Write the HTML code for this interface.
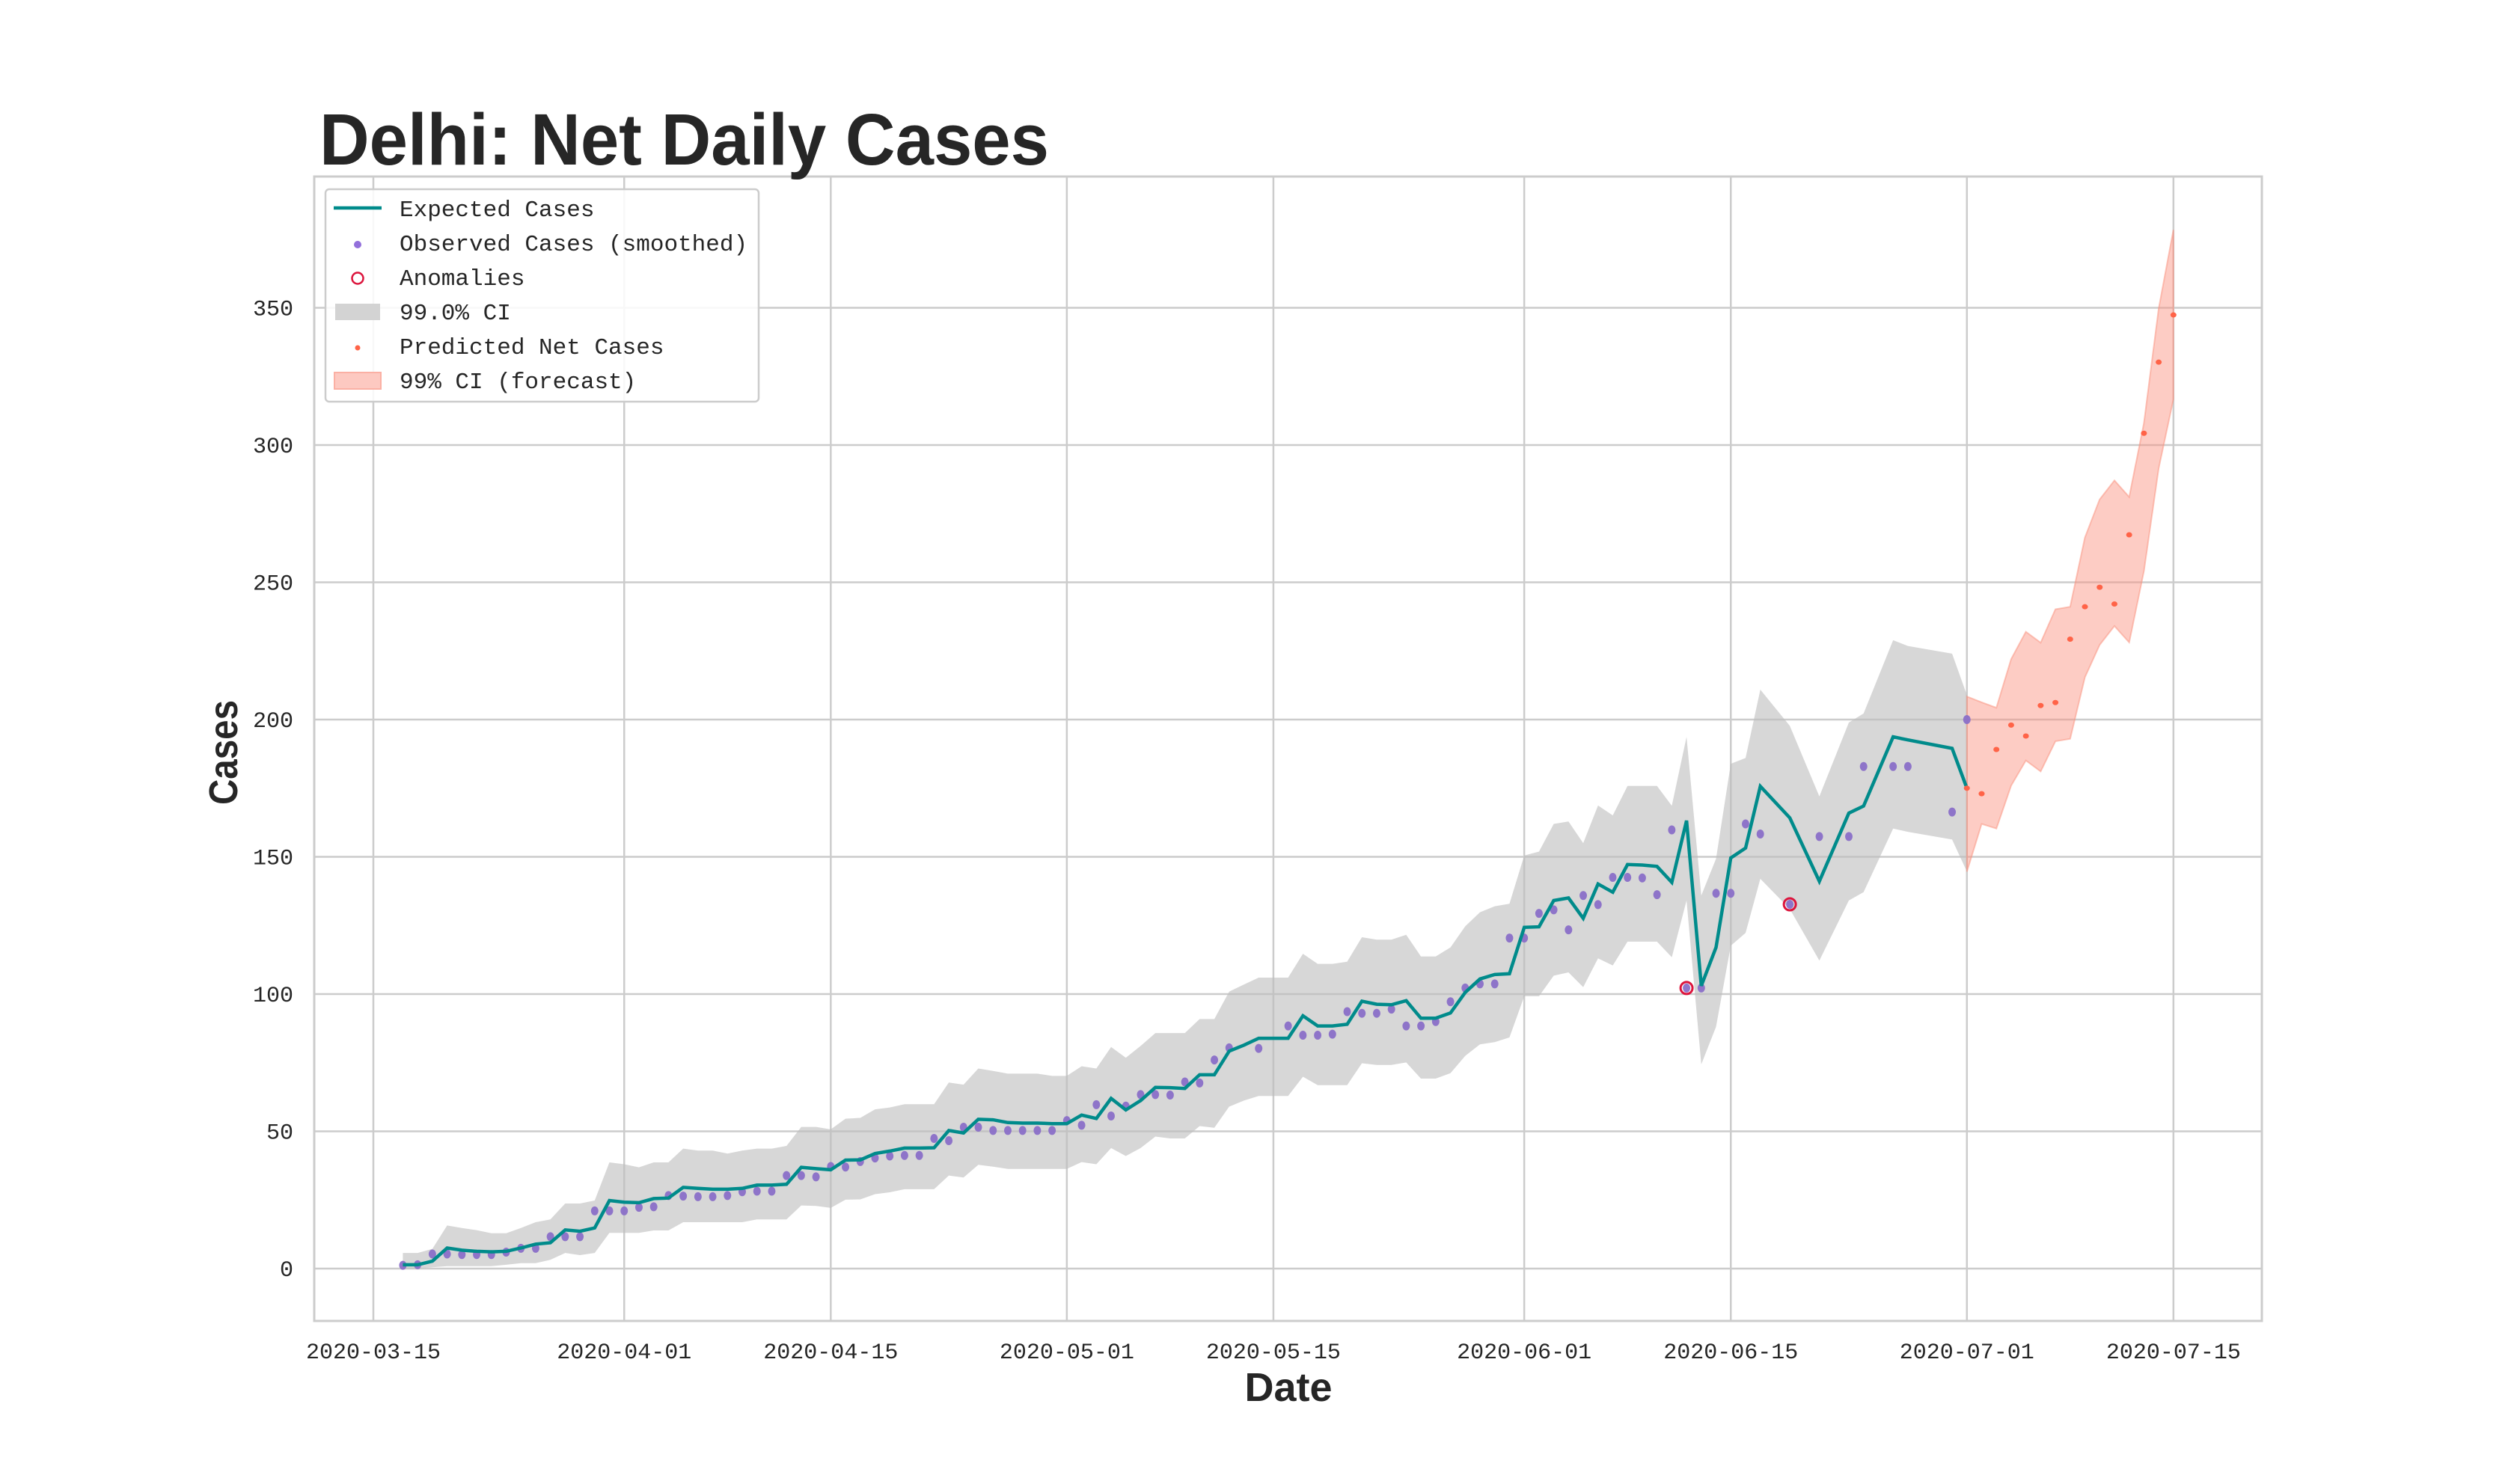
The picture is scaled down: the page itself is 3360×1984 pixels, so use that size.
<!DOCTYPE html>
<html><head><meta charset="utf-8">
<style>
html,body{margin:0;padding:0;background:#fff;}
svg{display:block;}
text{fill:#262626;}
.mono{font-family:"Liberation Mono","DejaVu Sans Mono",monospace;}
.sans{font-family:"Liberation Sans","DejaVu Sans",sans-serif;}
</style></head>
<body>
<svg id="chart" width="3360" height="1984" viewBox="0 0 3360 1984" xmlns="http://www.w3.org/2000/svg">
  <rect x="0" y="0" width="3360" height="1984" fill="#fff"/>
  <g id="grid"></g>
  <g id="bands"></g>
  <g id="series"></g>
  <rect x="420" y="236" width="2603" height="1530" fill="none" stroke="#cccccc" stroke-width="3"/>
  <g id="ticks"></g>
  <text class="sans" x="427" y="220" font-size="97" font-weight="bold" textLength="975" lengthAdjust="spacingAndGlyphs">Delhi: Net Daily Cases</text>
  <text class="sans" x="1722" y="1873" font-size="54" font-weight="bold" text-anchor="middle">Date</text>
  <text class="sans" x="0" y="0" font-size="54" font-weight="bold" text-anchor="middle" textLength="140" lengthAdjust="spacingAndGlyphs" transform="translate(317,1006) rotate(-90)">Cases</text>
  <g>
    <rect x="435" y="253" width="579" height="284" rx="5" fill="#fff" fill-opacity="0.85" stroke="#cccccc" stroke-width="2.5"/>
    <g>
      <line x1="446" y1="278" x2="510" y2="278" stroke="#008b8b" stroke-width="4.5"/>
      <text class="mono" x="534" y="289" font-size="31">Expected Cases</text>
    </g>
    <g>
      <circle cx="478" cy="327" r="5" fill="#9370db"/>
      <text class="mono" x="534" y="335" font-size="31">Observed Cases (smoothed)</text>
    </g>
    <g>
      <circle cx="478" cy="372" r="7.5" fill="none" stroke="#dc143c" stroke-width="2.5"/>
      <text class="mono" x="534" y="381" font-size="31">Anomalies</text>
    </g>
    <g>
      <rect x="448" y="406" width="60" height="22" fill="#d3d3d3"/>
      <text class="mono" x="534" y="427" font-size="31">99.0% CI</text>
    </g>
    <g>
      <circle cx="478" cy="465" r="3.5" fill="#ff6347"/>
      <text class="mono" x="534" y="473" font-size="31">Predicted Net Cases</text>
    </g>
    <g>
      <rect x="447" y="498" width="62" height="22" fill="#fdc9c1" stroke="#fbb0a4" stroke-width="2"/>
      <text class="mono" x="534" y="519" font-size="31">99% CI (forecast)</text>
    </g>
  </g>
</svg>
<script>
// ---- data (day offset from 2020-03-15) ----
function seq(a,b){var r=[];for(var i=a;i<=b;i++)r.push(i);return r;}
var lineDays = seq(2,94).concat([96,98,100,101,103,104,107,108]);
var expected = [1.4,1.4,2.7,7.5,6.7,6.3,6.1,6.3,7.5,8.9,
 9.4,14.1,13.6,14.8,24.8,24.2,24,25.5,25.7,29.6,
 29.2,28.9,28.9,29.2,30.4,30.4,30.7,36.9,36.4,36,
 39.5,39.6,41.9,42.8,43.9,43.9,44,50.3,49.4,54.4,
 54.2,53.2,53,53,52.8,52.8,55.9,54.7,62,57.8,
 61.2,66,65.9,65.6,70.6,70.6,79.2,81.4,83.9,83.9,
 83.9,92.1,88.4,88.4,89,97.4,96.3,96.1,97.6,91.2,
 91.2,93.1,100.6,105.5,107.1,107.4,124.3,124.5,134.1,135,
 127.6,140.1,137.1,147.2,147,146.5,140.7,163.2,103,117,
 149.6,153.2,175.7,164.2,141.1,165.9,168.5,193.7,192.6,189.5,175];
var ciUpper = [5.7,5.7,7.2,15.7,14.8,14,12.9,12.9,14.8,16.9,
 17.9,23.7,23.7,24.8,38.7,38,36.9,38.7,38.7,43.7,
 43,43,41.9,43,43.7,43.7,44.7,51.6,51.6,50.7,
 54.6,54.9,58,58.7,59.9,59.9,59.9,67.8,67,72.9,
 72,71,71,71,70.2,70.2,73.7,72.9,80.7,76.8,
 81.1,85.8,85.8,85.8,90.9,90.9,100.9,103.5,106,106,
 106,114.7,111,111,111.8,120.7,119.8,119.8,121.6,113.7,
 113.7,117,124.7,129.8,132,132.9,150.5,151.9,162,162.9,
 155,168.7,165.1,175.8,175.8,175.8,168.6,193.7,135.9,149.3,
 183.9,186,210.9,197.7,172,198.9,202.2,228.9,226.8,224,208.9];
var ciLower = [0,0,0.5,0.9,0.9,0.9,0.9,1.4,2,2,
 3.2,5.7,4.9,5.7,13,13,13,13.9,13.9,16.9,
 16.9,16.9,16.9,16.9,17.9,17.9,17.9,23,22.8,22.1,
 25.1,25.2,27.1,27.8,28.9,28.9,28.9,33.9,33.2,37.8,
 37.1,36.3,36.3,36.3,36.3,36.3,38.8,38,43.9,41,
 43.9,48.1,47.4,47.4,51.9,51.3,59,61.2,62.9,62.9,
 62.9,69.9,66.8,66.8,66.8,74.8,74.2,74.2,75.1,69.2,
 69.2,71.2,77.5,81.7,82.5,84.2,99.2,99.2,106.7,107.9,
 102.5,113,110.4,119.1,119.1,119.1,113.4,134.1,74.4,88.1,
 117.6,122.3,142,131,112.2,134.1,137.1,160.3,159.1,156.3,144.6];
var obsDays = seq(2,58).concat([60]).concat(seq(62,94)).concat([96,98,100,101,103,104,107,108]);
var observed = [1.2,1.4,5.3,5.3,5.1,5.1,5.1,6,7.4,7.4,
 11.6,11.6,11.6,21,21,21,22.3,22.5,26.6,26.4,
 26.2,26.2,26.6,28,28.2,28.2,33.9,33.9,33.4,37.2,
 37,39,40.3,41,41.2,41.2,47.4,46.6,51.5,51.5,
 50.3,50.3,50.3,50.3,50.3,53.9,52.2,59.7,55.6,59.2,
 63.4,63.4,63.2,68,67.6,76,80.4,
 80.2,
 88.4,85,85,85.4,93.6,93,93,94.5,88.4,88.4,
 90,97.2,102.2,103.7,103.7,120.4,120.4,129.4,130.7,123.4,
 135.9,132.6,142.5,142.5,142.3,136.2,159.8,102.2,102.2,136.7,
 136.7,162,158.3,
 132.7,157.4,157.4,182.9,182.9,182.9,166.3,200];
var anomalyDays = [89,96];
var anomalyVals = [102.2,132.7];
var fcDays = seq(108,122);
var predicted = [175,173,189.1,198,194,205.1,206.2,229.3,241.1,248.2,242.1,267.3,304.3,330.2,347.4];
var fcUpper = [208.4,206.3,204.3,222,232,228,240.2,241.1,266.3,280.2,287.1,281.1,308,349.7,378.4];
var fcLower = [144.6,162,160.3,175.9,185.1,181.1,192.1,193,215.4,227.2,234.1,228.1,254.1,291.5,316.7];
var xTickDays = [0,17,31,47,61,78,92,108,122];
var xTickLabels = ["2020-03-15","2020-04-01","2020-04-15","2020-05-01","2020-05-15","2020-06-01","2020-06-15","2020-07-01","2020-07-15"];
var yTicks = [0,50,100,150,200,250,300,350];

// ---- axes ----
var X0=499, XPD=19.72, Y0=1696, YPV=3.67;
function xs(d){return X0+XPD*d;}
function ys(v){return Y0-YPV*v;}
var NS="http://www.w3.org/2000/svg";
function mk(tag,parent){var e=document.createElementNS(NS,tag);parent.appendChild(e);return e;}
var grid=document.getElementById('grid'), ticks=document.getElementById('ticks');
var bands=document.getElementById('bands'), series=document.getElementById('series');

yTicks.forEach(function(v){
  var l=mk('line',grid);
  
  
  l.setAttribute('x1',420);l.setAttribute('x2',3023);l.setAttribute('y1',ys(v));l.setAttribute('y2',ys(v));
  l.setAttribute('stroke','#cccccc');l.setAttribute('stroke-width','2.5');
  var t=mk('text',ticks);
  
  
  t.setAttribute('class','mono');t.setAttribute('font-size','30');t.setAttribute('text-anchor','end');
  t.setAttribute('x',392);t.setAttribute('y',ys(v)+10);t.textContent=String(v);
});
xTickDays.forEach(function(d,i){
  var l=mk('line',grid);
  
  
  l.setAttribute('x1',xs(d));l.setAttribute('x2',xs(d));l.setAttribute('y1',236);l.setAttribute('y2',1766);
  l.setAttribute('stroke','#cccccc');l.setAttribute('stroke-width','2.5');
  var t=mk('text',ticks);
  
  
  t.setAttribute('class','mono');t.setAttribute('font-size','30');t.setAttribute('text-anchor','middle');
  t.setAttribute('x',xs(d));t.setAttribute('y',1816);t.textContent=xTickLabels[i];
});

function bandPath(days,up,lo){
  var s='';
  for(var i=0;i<days.length;i++) s+=(i?'L':'M')+xs(days[i]).toFixed(1)+','+ys(up[i]).toFixed(1);
  for(var j=days.length-1;j>=0;j--) s+='L'+xs(days[j]).toFixed(1)+','+ys(lo[j]).toFixed(1);
  return s+'Z';
}
var ci=mk('path',bands);


ci.setAttribute('d',bandPath(lineDays,ciUpper,ciLower));
ci.setAttribute('fill','#bdbdbd');ci.setAttribute('fill-opacity','0.6');

var fci=mk('path',bands);


fci.setAttribute('d',bandPath(fcDays,fcUpper,fcLower));
fci.setAttribute('fill','#fa8f7c');fci.setAttribute('fill-opacity','0.45');
fci.setAttribute('stroke','#fa8f7c');fci.setAttribute('stroke-opacity','0.5');fci.setAttribute('stroke-width','2');

// observed dots
obsDays.forEach(function(d,i){
  var c=mk('ellipse',series);
  
  
  c.setAttribute('cx',xs(d));c.setAttribute('cy',ys(observed[i]));c.setAttribute('rx',5);c.setAttribute('ry',6);
  c.setAttribute('fill','#8a6fc8');c.setAttribute('fill-opacity','0.95');
});
// expected line
var pts=lineDays.map(function(d,i){return xs(d).toFixed(1)+','+ys(expected[i]).toFixed(1);}).join(' ');
var pl=mk('polyline',series);


pl.setAttribute('points',pts);pl.setAttribute('fill','none');pl.setAttribute('stroke','#008b8b');
pl.setAttribute('stroke-width','4.5');pl.setAttribute('stroke-linejoin','miter');
// anomalies
anomalyDays.forEach(function(d,i){
  var c=mk('circle',series);
  
  
  c.setAttribute('cx',xs(d));c.setAttribute('cy',ys(anomalyVals[i]));c.setAttribute('r',8);
  c.setAttribute('fill','none');c.setAttribute('stroke','#dc143c');c.setAttribute('stroke-width','3');
});
// predicted
fcDays.forEach(function(d,i){
  var c=mk('ellipse',series);
  
  
  c.setAttribute('cx',xs(d));c.setAttribute('cy',ys(predicted[i]));c.setAttribute('rx',4);c.setAttribute('ry',3.5);
  c.setAttribute('fill','#ff6347');
});
</script>
</body></html>
